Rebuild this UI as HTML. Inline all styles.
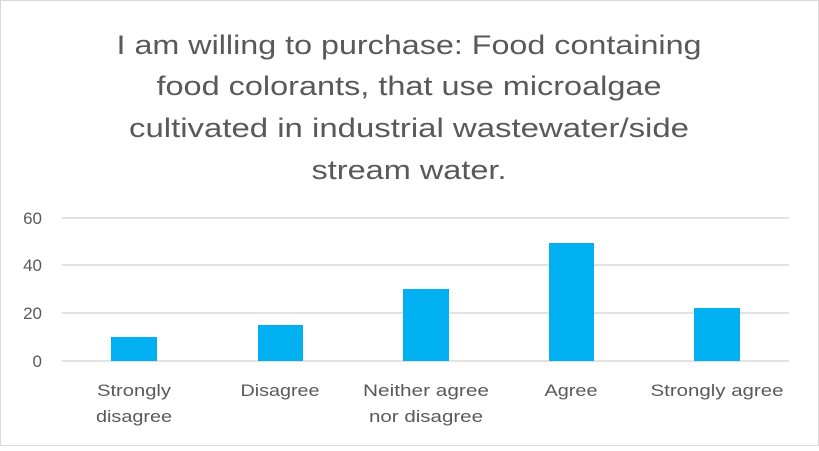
<!DOCTYPE html>
<html><head><style>
html,body{margin:0;padding:0;background:#fff;}
</style></head><body>
<svg width="819" height="446" xmlns="http://www.w3.org/2000/svg" font-family="'Liberation Sans', sans-serif">
<rect x="0.5" y="0.5" width="818" height="445" fill="#fff" stroke="#d9d9d9"/>
<g fill="#595959" font-size="27" text-anchor="middle">
<text x="409" y="54" textLength="585" lengthAdjust="spacingAndGlyphs">I am willing to purchase: Food containing</text>
<text x="409" y="95" textLength="505" lengthAdjust="spacingAndGlyphs">food colorants, that use microalgae</text>
<text x="409" y="137" textLength="560" lengthAdjust="spacingAndGlyphs">cultivated in industrial wastewater/side</text>
<text x="409" y="179" textLength="195" lengthAdjust="spacingAndGlyphs">stream water.</text>
</g>
<g stroke="#d9d9d9" stroke-width="1.5">
<line x1="62" y1="218" x2="789" y2="218"/>
<line x1="62" y1="265" x2="789" y2="265"/>
<line x1="62" y1="313" x2="789" y2="313"/>
<line x1="62" y1="361" x2="789" y2="361"/>
</g>
<g fill="#595959" font-size="17" text-anchor="end">
<text x="42" y="224">60</text>
<text x="42" y="271">40</text>
<text x="42" y="319">20</text>
<text x="42" y="367">0</text>
</g>
<g fill="#00b0f0">
<rect x="111" y="337" width="46" height="24"/>
<rect x="258" y="325" width="45" height="36"/>
<rect x="403" y="289" width="46" height="72"/>
<rect x="549" y="243" width="45" height="118"/>
<rect x="694" y="308" width="46" height="53"/>
</g>
<g fill="#595959" font-size="17" text-anchor="middle">
<text x="134" y="396" textLength="74" lengthAdjust="spacingAndGlyphs">Strongly</text>
<text x="134" y="422" textLength="76" lengthAdjust="spacingAndGlyphs">disagree</text>
<text x="280" y="396" textLength="79" lengthAdjust="spacingAndGlyphs">Disagree</text>
<text x="426" y="396" textLength="126" lengthAdjust="spacingAndGlyphs">Neither agree</text>
<text x="426" y="422" textLength="114" lengthAdjust="spacingAndGlyphs">nor disagree</text>
<text x="571" y="396" textLength="53" lengthAdjust="spacingAndGlyphs">Agree</text>
<text x="717" y="396" textLength="133" lengthAdjust="spacingAndGlyphs">Strongly agree</text>
</g>
</svg>
</body></html>
